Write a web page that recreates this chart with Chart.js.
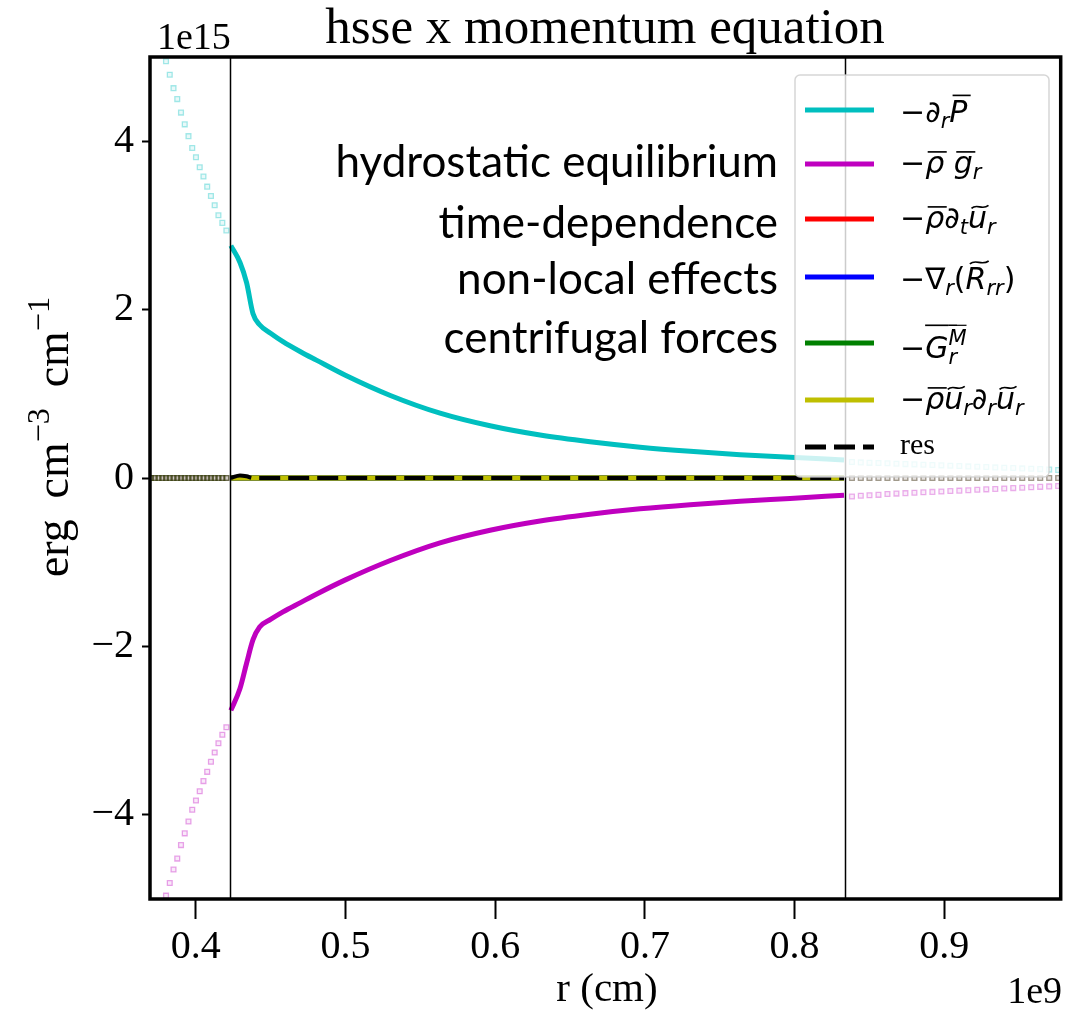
<!DOCTYPE html>
<html>
<head>
<meta charset="utf-8">
<script src="https://cdn.jsdelivr.net/npm/chart.js@4.4.1/dist/chart.umd.min.js"></script>
<style>
  html, body { margin: 0; padding: 0; background: #fff; }
  #plot { display: block; }
</style>
</head>
<body>
<canvas id="plot" width="1066" height="1017"></canvas>
<script>
// radius grid (units of 1e9 cm) and terms (units of 1e15 erg cm^-3 cm^-1)
// inner region between the two boundaries is drawn solid, outside as faint markers
const rLeft = [0.3702, 0.3727, 0.3752, 0.3777, 0.3802, 0.3827, 0.3852, 0.3877, 0.3902, 0.3927, 0.3952,
               0.3977, 0.4002, 0.4027, 0.4052, 0.4077, 0.4102, 0.4127, 0.4152, 0.4178, 0.4205];
const rMid = [0.4235, 0.4296, 0.4340, 0.4383, 0.4427, 0.4500, 0.4583, 0.4700, 0.4806, 0.5000,
              0.5300, 0.5632, 0.5966, 0.6300, 0.6634, 0.6968, 0.7302, 0.7636, 0.7970, 0.8330];
const rRight = [0.8383, 0.8442, 0.8500, 0.8560, 0.8620, 0.8680, 0.8740, 0.8800, 0.8860, 0.8920, 0.8980, 0.9040,
                0.9100, 0.9160, 0.9220, 0.9280, 0.9340, 0.9400, 0.9460, 0.9520, 0.9580, 0.9640, 0.9700, 0.9760];

// -d_r P
const pLeft = [5.90, 5.60, 5.35, 5.12, 4.95, 4.79, 4.63, 4.50, 4.34, 4.20, 4.06,
               3.92, 3.81, 3.69, 3.58, 3.46, 3.35, 3.24, 3.12, 3.03, 2.94];
const pMid = [2.76, 2.56, 2.32, 1.95, 1.82, 1.72, 1.62, 1.50, 1.40, 1.22,
              0.98, 0.77, 0.62, 0.51, 0.43, 0.366, 0.317, 0.277, 0.245, 0.215];
const pRight = [0.19, 0.185, 0.18, 0.178, 0.175, 0.17, 0.165, 0.162, 0.158, 0.155, 0.15, 0.146,
                0.142, 0.138, 0.134, 0.13, 0.126, 0.122, 0.118, 0.114, 0.11, 0.106, 0.10, 0.095];

// -rho g_r
const gLeft = [-5.90, -5.60, -5.35, -5.12, -4.96, -4.81, -4.65, -4.52, -4.36, -4.22, -4.08,
               -3.94, -3.83, -3.72, -3.60, -3.49, -3.37, -3.26, -3.15, -3.05, -2.96];
const gMid = [-2.76, -2.50, -2.20, -1.92, -1.77, -1.68, -1.59, -1.48, -1.38, -1.21,
              -0.98, -0.77, -0.62, -0.51, -0.43, -0.366, -0.317, -0.277, -0.243, -0.205];
const gRight = [-0.22, -0.21, -0.205, -0.20, -0.19, -0.185, -0.18, -0.175, -0.17, -0.165, -0.16, -0.155,
                -0.15, -0.145, -0.14, -0.135, -0.13, -0.125, -0.12, -0.115, -0.11, -0.105, -0.10, -0.095];

// time-dependence, non-local, centrifugal, advection: all ~0
const zeroLeft = [0, 0, 0, 0, 0, 0, 0, 0, 0, 0, 0, 0, 0, 0, 0, 0, 0, 0, 0, 0, 0];
const zeroMid = [0, 0, 0, 0, 0, 0, 0, 0, 0, 0, 0, 0, 0, 0, 0, 0, 0, 0, 0, 0];
const zeroRight = [0, 0, 0, 0, 0, 0, 0, 0, 0, 0, 0, 0, 0, 0, 0, 0, 0, 0, 0, 0, 0, 0, 0, 0];
const resMid = [0, 0.03, 0.02, 0, 0, 0, 0, 0, 0, 0, 0, 0, 0, 0, 0, 0, 0, 0, 0, 0];

const rBounds = [0.4231, 0.8334];
const xTicks = [0.4, 0.5, 0.6, 0.7, 0.8, 0.9];
const yTicks = [-4, -2, 0, 2, 4];

const termColors = ['#00bfbf', '#bf00bf', '#ff0000', '#0000ff', '#008000', '#bfbf00', '#000000'];
// legend labels as [text, flags]: i italic, _ sub, ^ sup, < stack on previous, b bar, B high bar, w tilde
const termLabels = [
  [['−', ''], ['∂', 'i'], ['r', 'i_'], ['P', 'ib']],
  [['−', ''], ['ρ', 'ib'], [' ', ''], ['g', 'ib'], ['r', 'i_']],
  [['−', ''], ['ρ', 'ib'], ['∂', 'i'], ['t', 'i_'], ['u', 'iw'], ['r', 'i_']],
  [['−', ''], ['∇', ''], ['r', 'i_'], ['(', ''], ['R', 'iw'], ['rr', 'i_'], [')', '']],
  [['−', ''], ['G', 'iB'], ['r', 'i_B'], ['M', 'i^<B']],
  [['−', ''], ['ρ', 'ib'], ['u', 'iw'], ['r', 'i_'], ['∂', 'i'], ['r', 'i_'], ['u', 'iw'], ['r', 'i_']],
  [['res', '']]
];
const notes = ['hydrostatic equilibrium', 'time-dependence', 'non-local effects', 'centrifugal forces'];
const yLabel = [['erg\u2009 cm', ''], ['−3', '^'], ['\u2009 cm', ''], ['−1', '^']];

const SERIF = '"Liberation Serif", "Times New Roman", serif';
const MATH = '"DejaVu Sans", sans-serif';
const NOTE = 'Lato, "Open Sans", sans-serif';
const RES_DASH = [21, 8];

const pts = (r, v) => r.map((x, i) => ({ x: x, y: v[i] }));

const solid = (r, v, color, width, dash) => ({
  data: pts(r, v),
  borderColor: color,
  borderWidth: width,
  borderDash: dash || [],
  pointRadius: 0,
  fill: false,
  cubicInterpolationMode: 'monotone'
});

const faint = (r, v, rgb, a) => ({
  data: pts(r, v),
  showLine: false,
  pointStyle: 'rect',
  pointRadius: 3.4,
  pointBorderWidth: 1.3,
  pointBorderColor: 'rgba(' + rgb + ',' + a + ')',
  pointBackgroundColor: 'rgba(' + rgb + ',' + (a * 0.25) + ')',
  clip: 0
});

// black ends up on top of the zero markers
const zeroRgb = ['0,0,0', '191,191,0', '0,128,0', '0,0,255', '255,0,0'];

// Chart.js paints dataset 0 last, so the list runs top -> bottom
let datasets = [
  solid(rMid, resMid, '#000000', 4, RES_DASH),
  solid(rMid, zeroMid, termColors[5], 5),
  solid(rMid, zeroMid, termColors[4], 5),
  solid(rMid, zeroMid, termColors[3], 5),
  solid(rMid, zeroMid, termColors[2], 5),
  solid(rMid, gMid, termColors[1], 5),
  solid(rMid, pMid, termColors[0], 5),
  faint(rLeft, pLeft, '0,191,191', 0.35),
  faint(rRight, pRight, '0,191,191', 0.3),
  faint(rLeft, gLeft, '191,0,191', 0.35),
  faint(rRight, gRight, '191,0,191', 0.3)
];
zeroRgb.forEach(c => {
  datasets.push(faint(rLeft, zeroLeft, c, 0.25));
  datasets.push(faint(rRight, zeroRight, c, 0.13));
});

// lay out a label made of styled pieces
function layoutRich(ctx, toks, size, family) {
  let x = 0, lastX = 0, top = 0, bottom = 0;
  const items = [];
  for (const [s, f] of toks) {
    const script = f.includes('_') || f.includes('^');
    const fs = script ? size * 0.7 : size;
    const font = (f.includes('i') ? 'italic ' : '') + fs.toFixed(1) + 'px ' + family;
    ctx.font = font;
    const m = ctx.measureText(s);
    const x0 = f.includes('<') ? lastX : x;
    const dy = f.includes('_') ? size * 0.2 : (f.includes('^') ? -size * 0.42 : 0);
    const asc = m.actualBoundingBoxAscent, desc = m.actualBoundingBoxDescent;
    let markY = null;
    if (f.includes('b') || f.includes('w')) markY = dy - asc - fs * 0.14;
    if (f.includes('B')) markY = -size * 1.08;
    const slant = f.includes('i') && !f.includes('B') ? asc * 0.15 : 0;
    items.push({ s: s, font: font, x: x0, dy: dy, w: m.width, f: f, fs: fs, markY: markY, slant: slant });
    top = Math.min(top, dy - asc, markY !== null ? markY - 3 : 0);
    bottom = Math.max(bottom, dy + desc);
    lastX = x0;
    x = Math.max(x, x0 + m.width);
  }
  return { items: items, width: x, top: top, bottom: bottom };
}

function drawRich(ctx, lay, ox, oy, color) {
  ctx.fillStyle = color;
  ctx.strokeStyle = color;
  ctx.textAlign = 'left';
  ctx.textBaseline = 'alphabetic';
  for (const it of lay.items) {
    ctx.font = it.font;
    ctx.fillText(it.s, ox + it.x, oy + it.dy);
    if (it.markY === null) continue;
    const y = oy + it.markY;
    const x0 = ox + it.x + it.slant, x1 = x0 + it.w;
    ctx.lineWidth = Math.max(1.2, it.fs * 0.055);
    ctx.beginPath();
    if (it.f.includes('w')) {
      const h = it.fs * 0.08;
      ctx.moveTo(x0 + 1, y + h * 0.6);
      ctx.bezierCurveTo(x0 + (x1 - x0) * 0.35, y - h * 1.6, x0 + (x1 - x0) * 0.6, y + h * 1.6, x1 - 1, y - h * 0.6);
    } else {
      ctx.moveTo(x0, y);
      ctx.lineTo(x1, y);
    }
    ctx.stroke();
  }
}

const decor = {
  id: 'decor',
  beforeDraw(chart) {
    const ctx = chart.ctx;
    ctx.save();
    ctx.fillStyle = '#ffffff';
    ctx.fillRect(0, 0, chart.width, chart.height);
    ctx.restore();
  },
  afterDatasetsDraw(chart) {
    const ctx = chart.ctx;
    const a = chart.chartArea;
    const xs = chart.scales.x;
    ctx.save();

    // boundaries of the solid region
    ctx.strokeStyle = '#000';
    ctx.lineWidth = 1.5;
    rBounds.forEach(r => {
      const px = Math.round(xs.getPixelForValue(r)) + 0.5;
      ctx.beginPath();
      ctx.moveTo(px, a.top);
      ctx.lineTo(px, a.bottom);
      ctx.stroke();
    });

    // axes frame
    ctx.lineWidth = 3.5;
    ctx.strokeRect(a.left, a.top, a.right - a.left, a.bottom - a.top);

    // legend
    const lx = 795, ly = 75, lw = 254, lh = 402;
    ctx.beginPath();
    ctx.roundRect(lx, ly, lw, lh, 5);
    ctx.fillStyle = 'rgba(255,255,255,0.8)';
    ctx.fill();
    ctx.strokeStyle = 'rgba(204,204,204,0.8)';
    ctx.lineWidth = 1.5;
    ctx.stroke();

    const rowY = [110, 164, 219, 277, 343, 400, 447];
    termLabels.forEach((toks, i) => {
      const y = rowY[i];
      ctx.strokeStyle = termColors[i];
      ctx.lineWidth = 5;
      ctx.setLineDash(i === 6 ? RES_DASH : []);
      ctx.beginPath();
      ctx.moveTo(805, y);
      ctx.lineTo(874, y);
      ctx.stroke();
      ctx.setLineDash([]);
      const lay = i === 6 ? layoutRich(ctx, toks, 30, SERIF) : layoutRich(ctx, toks, 30, MATH);
      drawRich(ctx, lay, 900, y - (lay.top + lay.bottom) / 2, '#000');
    });

    // term annotations
    ctx.fillStyle = '#000';
    ctx.font = '44px ' + NOTE;
    ctx.textAlign = 'right';
    ctx.textBaseline = 'alphabetic';
    const noteY = [177, 238, 294, 353];
    notes.forEach((t, i) => ctx.fillText(t, 778, noteY[i]));

    // title, offsets, axis labels
    ctx.font = '51px ' + SERIF;
    ctx.textAlign = 'center';
    ctx.fillText('hsse x momentum equation', 605, 43);
    ctx.font = '38px ' + SERIF;
    ctx.textAlign = 'left';
    ctx.fillText('1e15', 157, 49);
    ctx.textAlign = 'right';
    ctx.fillText('1e9', 1062, 1003);
    ctx.font = '41px ' + SERIF;
    ctx.textAlign = 'center';
    ctx.fillText('r (cm)', 607, 1001);

    const yl = layoutRich(ctx, yLabel, 46, SERIF);
    ctx.translate(68, 437);
    ctx.rotate(-Math.PI / 2);
    drawRich(ctx, yl, -yl.width / 2, 0, '#000');
    ctx.restore();
  }
};

new Chart(document.getElementById('plot'), {
  type: 'line',
  data: { datasets: datasets },
  options: {
    responsive: false,
    animation: false,
    devicePixelRatio: 1,
    layout: { padding: { left: 0, top: 57, right: 3, bottom: 0 } },
    plugins: { legend: { display: false }, tooltip: { enabled: false }, title: { display: false } },
    scales: {
      x: {
        type: 'linear',
        min: 0.3695,
        max: 0.9777,
        afterFit: s => { s.height = 118; },
        afterBuildTicks: s => { s.ticks = xTicks.map(v => ({ value: v })); },
        border: { display: false },
        grid: { drawOnChartArea: false, drawTicks: true, tickLength: 20, tickWidth: 2, tickColor: '#000' },
        ticks: {
          color: '#000',
          padding: 4,
          maxRotation: 0,
          font: { family: SERIF, size: 40 },
          callback: v => v.toFixed(1)
        }
      },
      y: {
        type: 'linear',
        min: -5,
        max: 5,
        afterFit: s => { s.width = 150; },
        afterBuildTicks: s => { s.ticks = yTicks.map(v => ({ value: v })); },
        border: { display: false },
        grid: { drawOnChartArea: false, drawTicks: true, tickLength: 8, tickWidth: 2, tickColor: '#000' },
        ticks: {
          color: '#000',
          padding: 8,
          font: { family: SERIF, size: 40 },
          callback: v => (v < 0 ? '\u2212' + Math.abs(v) : String(v))
        }
      }
    }
  },
  plugins: [decor]
});
</script>
</body>
</html>
